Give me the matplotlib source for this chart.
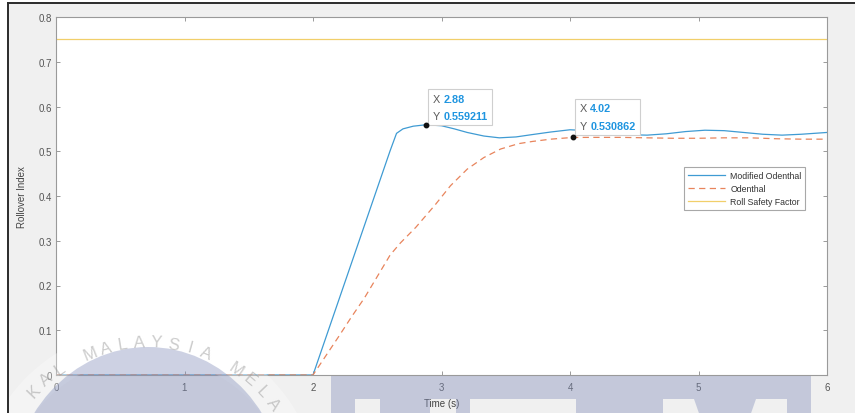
import numpy as np;
import matplotlib;
matplotlib.use("Agg");
import matplotlib.pyplot as plt;
from matplotlib.patches import Ellipse, Polygon, Rectangle, Annulus;
from matplotlib.offsetbox import TextArea, HPacker, VPacker, AnnotationBbox;

# Rollover index of the modified model (s, -)
TIME_MOD = [0.0, 1.0, 2.0, 2.2, 2.4, 2.6, 2.65, 2.7, 2.78, 2.88, 3.0, 3.1, 3.2, 3.33, 3.45, 3.58,
            3.7, 3.85, 4.0, 4.15, 4.3, 4.45, 4.6, 4.75, 4.9, 5.05, 5.2, 5.35, 5.5, 5.65, 5.8, 5.9, 6.0]
RI_MOD = [0.0, 0.0, 0.0, 0.167, 0.334, 0.501, 0.540, 0.550, 0.556, 0.559211, 0.557, 0.550, 0.542,
          0.534, 0.530, 0.532, 0.537, 0.543, 0.548, 0.546, 0.541, 0.537, 0.536, 0.539, 0.544, 0.547,
          0.546, 0.542, 0.538, 0.536, 0.538, 0.540, 0.542]

# Rollover index of the original Odenthal model
TIME_ODE = [0.0, 1.0, 2.0, 2.1, 2.2, 2.3, 2.4, 2.5, 2.6, 2.68, 2.8, 2.95, 3.07, 3.2, 3.33, 3.46,
            3.6, 3.71, 3.85, 4.02, 4.2, 4.4, 4.6, 4.8, 5.0, 5.2, 5.4, 5.6, 5.8, 6.0]
RI_ODE = [0.0, 0.0, 0.0, 0.043, 0.086, 0.13, 0.172, 0.22, 0.268, 0.295, 0.33, 0.38, 0.423, 0.46,
          0.486, 0.505, 0.517, 0.522, 0.527, 0.530862, 0.531, 0.531, 0.530, 0.529, 0.529, 0.530,
          0.530, 0.528, 0.527, 0.527]

ROLL_SAFETY = 0.75;
TIP_X = [2.88, 4.02];
TIP_Y = [0.559211, 0.530862];
TIP_OFFSETS = [(4.7, 2.6), (5.0, 4.8)]; # points, lower-left corner of each data tip

XTICKS = [0, 1, 2, 3, 4, 5, 6];
YTICKS = [0, 0.1, 0.2, 0.3, 0.4, 0.5, 0.6, 0.7, 0.8];
YTICK_LABELS = ["0", "0.1", "0.2", "0.3", "0.4", "0.5", "0.6", "0.7", "0.8"];

BLUE = "#3f9bd3";
ORANGE = "#e8845c";
YELLOW = "#f1cf6a";
TIP_BLUE = "#1f95e0";
W, H = 855, 414;


def data_tip(ax, x, y, off):
  small = dict(color="#5a5a5a", fontsize=7.8);
  value = dict(color=TIP_BLUE, fontsize=7.8, fontweight="bold");
  row_x = HPacker(children=[TextArea("X", textprops=small), TextArea(f"{x:g}", textprops=value)], sep=2.5, pad=0);
  row_y = HPacker(children=[TextArea("Y", textprops=small), TextArea(f"{y:g}", textprops=value)], sep=2.5, pad=0);
  box = VPacker(children=[row_x, row_y], sep=5.5, pad=0, align="left");
  ab = AnnotationBbox(box, (x, y), xybox=off, xycoords="data", boxcoords="offset points",
                      box_alignment=(0, 0), frameon=True, pad=0.73,
                      bboxprops=dict(edgecolor="#cfcfcf", facecolor="white", lw=0.8, boxstyle="square"));
  ab.set_zorder(6);
  ax.add_artist(ab);
  ax.plot(x, y, "o", color="#111111", ms=3.2, zorder=7);


def watermark(fig):
  # faded logo stamped across the lower part of the page, drawn in pixel units
  wm = fig.add_axes([0, 0, 1, 1], zorder=10);
  wm.set_xlim(0, W);
  wm.set_ylim(H, 0);
  wm.set_facecolor("none");
  wm.axis("off");

  cx, cy = 148, 500;
  wm.add_patch(Annulus((cx, cy), 172, 30, facecolor="white", edgecolor="none", alpha=0.3));
  wm.add_patch(Ellipse((cx, cy), 276, 304, facecolor="#828ebb", edgecolor="none", alpha=0.4));
  r = 157;
  for i, ch in enumerate("KAL MALAYSIA MELA"):
    ang = np.radians((i - 7.5) * 6.2);
    wm.text(cx + r * np.sin(ang), cy - r * np.cos(ang), ch, rotation=-np.degrees(ang),
            ha="center", va="center", fontsize=12, color="#9a9a9a", alpha=0.5,
            family="Liberation Sans");

  block = [(331, 377), (811, 377), (811, 420), (787, 420), (787, 400), (756, 400), (749, 420),
           (701, 420), (694, 400), (663, 400), (663, 420), (576, 420), (576, 400), (470, 400),
           (470, 420), (456, 420), (456, 400), (430, 400), (430, 420), (380, 420), (380, 400),
           (355, 400), (355, 420), (331, 420)];
  wm.add_patch(Polygon(block, closed=True, facecolor="#828ebb", edgecolor="none", alpha=0.4));

  # screenshot frame on the top and left
  wm.add_patch(Rectangle((0, 0), 8, H, facecolor="white", edgecolor="none"));
  wm.add_patch(Rectangle((0, 0), W, 4, facecolor="white", edgecolor="none"));
  wm.plot([8, 8], [4, H], color="#2b2b2b", lw=1.4);
  wm.plot([8, W], [4, 4], color="#2b2b2b", lw=1.4);


def main():
  plt.rcParams["font.family"] = ["Liberation Sans", "DejaVu Sans"];
  fig = plt.figure(figsize=(W / 100, H / 100), dpi=100, facecolor="#f0f0f0");
  ax = fig.add_axes([56 / W, 1 - 376 / H, (827 - 56) / W, (376 - 18) / H]);
  ax.set_facecolor("white");

  ax.plot(TIME_MOD, RI_MOD, color=BLUE, lw=0.9, label="Modified Odenthal");
  ax.plot(TIME_ODE, RI_ODE, color=ORANGE, lw=0.9, ls=(0, (5, 3.5)), label="Odenthal");
  ax.axhline(ROLL_SAFETY, color=YELLOW, lw=0.9, label="Roll Safety Factor");

  for x, y, off in zip(TIP_X, TIP_Y, TIP_OFFSETS):
    data_tip(ax, x, y, off);

  ax.set_xlim(0, 6);
  ax.set_ylim(0, 0.8);
  ax.set_xticks(XTICKS);
  ax.set_xticklabels([str(t) for t in XTICKS]);
  ax.set_yticks(YTICKS);
  ax.set_yticklabels(YTICK_LABELS);
  ax.tick_params(direction="in", length=3, width=0.6, colors="#8a8a8a", labelcolor="#555555",
                 labelsize=7, top=True, right=True);
  ax.tick_params(axis="x", pad=5);
  ax.tick_params(axis="y", pad=3);
  for s in ax.spines.values():
    s.set_color("#9a9a9a");
    s.set_linewidth(0.8);

  ax.set_xlabel("Time (s)", fontsize=7, color="#444444");
  ax.set_ylabel("Rollover Index", fontsize=7, color="#444444");
  ax.xaxis.set_label_coords(0.5, -0.064);
  ax.yaxis.set_label_coords(-0.037, 0.5);

  leg = ax.legend(loc="upper right", bbox_to_anchor=(0.972, 0.58), fontsize=6.3, frameon=True,
                  fancybox=False, framealpha=1, edgecolor="#a8a8a8", handlelength=4.2,
                  labelspacing=0.45, borderpad=0.45, handletextpad=0.6, borderaxespad=0);
  leg.get_frame().set_linewidth(0.8);
  for t in leg.get_texts():
    t.set_color("#333333");

  watermark(fig);
  fig.savefig("out.png", dpi=100, facecolor=fig.get_facecolor());

if __name__ == "__main__":
  main();
